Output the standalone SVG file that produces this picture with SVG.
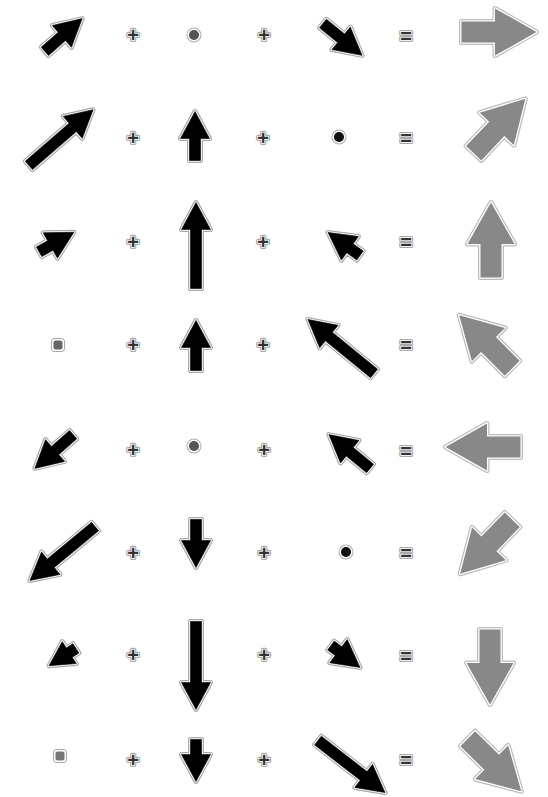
<svg xmlns="http://www.w3.org/2000/svg" width="548" height="797" viewBox="0 0 548 797">
<style>
.h{fill:#aaa;stroke:#aaa;stroke-width:5;stroke-linejoin:round}
.g{fill:#fff;stroke:#fff;stroke-width:2.6;stroke-linejoin:round}
.k{fill:#000;stroke:#000;stroke-width:0.6;stroke-linejoin:round}
.gh{fill:#bbb;stroke:#bbb;stroke-width:5;stroke-linejoin:round}
.gg{fill:#fff;stroke:#fff;stroke-width:2.6;stroke-linejoin:round}
.gk{fill:#888}
.sym{font-family:"Liberation Sans",Arial,sans-serif;font-size:20px;font-weight:bold;text-anchor:middle;dominant-baseline:central}
.symh{fill:#aaa;stroke:#aaa;stroke-width:4;stroke-linejoin:round}
.symk{fill:#333;stroke:#fff;stroke-width:1.5;paint-order:stroke}
.dh{stroke:#aaa;stroke-width:4}
</style>
<defs>
<polygon id="big" points="2.5,-10.5 36,-10.5 36,-23.5 77.5,0 36,23.5 36,10.5 2.5,10.5"/>
<polygon id="s1a" points="2.5,-5.5 25.1,-5.5 25.1,-14.5 52.1,0 25.1,14.5 25.1,5.5 2.5,5.5"/>
<polygon id="s1c" points="2.5,-5.5 25.9,-5.5 25.9,-14.5 52.9,0 25.9,14.5 25.9,5.5 2.5,5.5"/>
<polygon id="s2a" points="2.5,-5.5 60.5,-5.5 60.5,-14.5 87.5,0 60.5,14.5 60.5,5.5 2.5,5.5"/>
<polygon id="s2b" points="2.5,-5.5 24.5,-5.5 24.5,-14.5 51.5,0 24.5,14.5 24.5,5.5 2.5,5.5"/>
<polygon id="s3a" points="2.5,-5.5 15.3,-5.5 15.3,-14.5 42.3,0 15.3,14.5 15.3,5.5 2.5,5.5"/>
<polygon id="s3b" points="2.5,-5.5 61.5,-5.5 61.5,-14.5 88.5,0 61.5,14.5 61.5,5.5 2.5,5.5"/>
<polygon id="s3c" points="2.5,-5.5 14.9,-5.5 14.9,-14.5 41.9,0 14.9,14.5 14.9,5.5 2.5,5.5"/>
<polygon id="s4b" points="2.5,-5.5 25.5,-5.5 25.5,-14.5 52.5,0 25.5,14.5 25.5,5.5 2.5,5.5"/>
<polygon id="s4c" points="2.5,-5.5 60.8,-5.5 60.8,-14.5 87.8,0 60.8,14.5 60.8,5.5 2.5,5.5"/>
<polygon id="s5a" points="2.5,-5.5 26.5,-5.5 26.5,-14.5 53.5,0 26.5,14.5 26.5,5.5 2.5,5.5"/>
<polygon id="s5c" points="2.5,-5.5 28.8,-5.5 28.8,-14.5 55.8,0 28.8,14.5 28.8,5.5 2.5,5.5"/>
<polygon id="s6a" points="2.5,-5.5 60,-5.5 60,-14.5 87,0 60,14.5 60,5.5 2.5,5.5"/>
<polygon id="s6b" points="2.5,-5.5 23.5,-5.5 23.5,-14.5 50.5,0 23.5,14.5 23.5,5.5 2.5,5.5"/>
<polygon id="s7a" points="2.5,-5.5 10.4,-5.5 10.4,-13 34.4,0 10.4,13 10.4,5.5 2.5,5.5"/>
<polygon id="s7b" points="2.5,-5.5 63.5,-5.5 63.5,-14.5 90.5,0 63.5,14.5 63.5,5.5 2.5,5.5"/>
<polygon id="s7c" points="2.5,-5.5 11.9,-5.5 11.9,-14.5 38.9,0 11.9,14.5 11.9,5.5 2.5,5.5"/>
<polygon id="s8b" points="2.5,-5.5 17.5,-5.5 17.5,-14.5 44.5,0 17.5,14.5 17.5,5.5 2.5,5.5"/>
<polygon id="s8c" points="2.5,-5.5 60.3,-5.5 60.3,-14.5 87.3,0 60.3,14.5 60.3,5.5 2.5,5.5"/>
<g id="plus"><text class="sym symh">+</text><text class="sym symk">+</text></g>
<g id="eq"><text class="sym symh">=</text><text class="sym symk">=</text></g>
</defs>

<!-- Row 1 -->
<g id="r1a" transform="translate(43,53) rotate(-41.3)"><use href="#s1a" class="h"/><use href="#s1a" class="g"/><use href="#s1a" class="k"/></g>
<g id="r1p1" transform="translate(133,35)"><use href="#plus"/></g>
<g id="r1b"><circle cx="194" cy="35" r="5.5" fill="#555" class="dh"/><circle cx="194" cy="35" r="5.5" fill="#555" stroke="#fff" stroke-width="2"/><circle cx="194" cy="35" r="5" fill="#555"/></g>
<g id="r1p2" transform="translate(264,35)"><use href="#plus"/></g>
<g id="r1c" transform="translate(321,22) rotate(39.1)"><use href="#s1c" class="h"/><use href="#s1c" class="g"/><use href="#s1c" class="k"/></g>
<g id="r1e" transform="translate(406,36)"><use href="#eq"/></g>
<g id="r1r" transform="translate(459,32)"><use href="#big" class="gh"/><use href="#big" class="gg"/><use href="#big" class="gk"/></g>

<!-- Row 2 -->
<g id="r2a" transform="translate(27,167) rotate(-40.9)"><use href="#s2a" class="h"/><use href="#s2a" class="g"/><use href="#s2a" class="k"/></g>
<g id="r2p1" transform="translate(133,138)"><use href="#plus"/></g>
<g id="r2b" transform="translate(195,163) rotate(-90)"><use href="#s2b" class="h"/><use href="#s2b" class="g"/><use href="#s2b" class="k"/></g>
<g id="r2p2" transform="translate(263,138)"><use href="#plus"/></g>
<g id="r2c"><circle cx="339" cy="137" r="5.5" fill="#111" class="dh"/><circle cx="339" cy="137" r="5.5" fill="#111" stroke="#fff" stroke-width="2"/><circle cx="339" cy="137" r="5" fill="#111"/></g>
<g id="r2e" transform="translate(406,138)"><use href="#eq"/></g>
<g id="r2r" transform="translate(472,155) rotate(-46.5)"><use href="#big" class="gh"/><use href="#big" class="gg"/><use href="#big" class="gk"/></g>

<!-- Row 3 -->
<g id="r3a" transform="translate(37,253) rotate(-29.4)"><use href="#s3a" class="h"/><use href="#s3a" class="g"/><use href="#s3a" class="k"/></g>
<g id="r3p1" transform="translate(133,242)"><use href="#plus"/></g>
<g id="r3b" transform="translate(196,291) rotate(-90)"><use href="#s3b" class="h"/><use href="#s3b" class="g"/><use href="#s3b" class="k"/></g>
<g id="r3p2" transform="translate(263,242)"><use href="#plus"/></g>
<g id="r3c" transform="translate(362,257) rotate(-144.2)"><use href="#s3c" class="h"/><use href="#s3c" class="g"/><use href="#s3c" class="k"/></g>
<g id="r3e" transform="translate(406,242)"><use href="#eq"/></g>
<g id="r3r" transform="translate(491,280) rotate(-90)"><use href="#big" class="gh"/><use href="#big" class="gg"/><use href="#big" class="gk"/></g>

<!-- Row 4 -->
<g id="r4a"><rect x="53" y="340" width="10" height="10" rx="2" fill="#666" class="dh"/><rect x="53" y="340" width="10" height="10" rx="2" fill="#666" stroke="#fff" stroke-width="2"/><rect x="53.5" y="340.5" width="9" height="9" rx="2" fill="#666"/></g>
<g id="r4p1" transform="translate(133,345)"><use href="#plus"/></g>
<g id="r4b" transform="translate(196,373) rotate(-90)"><use href="#s4b" class="h"/><use href="#s4b" class="g"/><use href="#s4b" class="k"/></g>
<g id="r4p2" transform="translate(263,345)"><use href="#plus"/></g>
<g id="r4c" transform="translate(376,375) rotate(-140.8)"><use href="#s4c" class="h"/><use href="#s4c" class="g"/><use href="#s4c" class="k"/></g>
<g id="r4e" transform="translate(406,345)"><use href="#eq"/></g>
<g id="r4r" transform="translate(514,370) rotate(-135)"><use href="#big" class="gh"/><use href="#big" class="gg"/><use href="#big" class="gk"/></g>

<!-- Row 5 -->
<g id="r5a" transform="translate(75,433) rotate(138.6)"><use href="#s5a" class="h"/><use href="#s5a" class="g"/><use href="#s5a" class="k"/></g>
<g id="r5p1" transform="translate(133,450)"><use href="#plus"/></g>
<g id="r5b"><circle cx="194" cy="446" r="5.5" fill="#555" class="dh"/><circle cx="194" cy="446" r="5.5" fill="#555" stroke="#fff" stroke-width="2"/><circle cx="194" cy="446" r="5" fill="#555"/></g>
<g id="r5p2" transform="translate(264,450)"><use href="#plus"/></g>
<g id="r5c" transform="translate(372,470) rotate(-140.6)"><use href="#s5c" class="h"/><use href="#s5c" class="g"/><use href="#s5c" class="k"/></g>
<g id="r5e" transform="translate(406,451)"><use href="#eq"/></g>
<g id="r5r" transform="translate(523,447) rotate(180)"><use href="#big" class="gh"/><use href="#big" class="gg"/><use href="#big" class="gk"/></g>

<!-- Row 6 -->
<g id="r6a" transform="translate(97,525) rotate(140.4)"><use href="#s6a" class="h"/><use href="#s6a" class="g"/><use href="#s6a" class="k"/></g>
<g id="r6p1" transform="translate(133,553)"><use href="#plus"/></g>
<g id="r6b" transform="translate(196,517) rotate(90)"><use href="#s6b" class="h"/><use href="#s6b" class="g"/><use href="#s6b" class="k"/></g>
<g id="r6p2" transform="translate(264,553)"><use href="#plus"/></g>
<g id="r6c"><circle cx="346" cy="552" r="5.5" fill="#111" class="dh"/><circle cx="346" cy="552" r="5.5" fill="#111" stroke="#fff" stroke-width="2"/><circle cx="346" cy="552" r="5" fill="#111"/></g>
<g id="r6e" transform="translate(406,553)"><use href="#eq"/></g>
<g id="r6r" transform="translate(514,518) rotate(134)"><use href="#big" class="gh"/><use href="#big" class="gg"/><use href="#big" class="gk"/></g>

<!-- Row 7 -->
<g id="r7a" transform="translate(78,647) rotate(147.2)"><use href="#s7a" class="h"/><use href="#s7a" class="g"/><use href="#s7a" class="k"/></g>
<g id="r7p1" transform="translate(133,655)"><use href="#plus"/></g>
<g id="r7b" transform="translate(196,619) rotate(90)"><use href="#s7b" class="h"/><use href="#s7b" class="g"/><use href="#s7b" class="k"/></g>
<g id="r7p2" transform="translate(264,655)"><use href="#plus"/></g>
<g id="r7c" transform="translate(329,644) rotate(37.1)"><use href="#s7c" class="h"/><use href="#s7c" class="g"/><use href="#s7c" class="k"/></g>
<g id="r7e" transform="translate(406,656)"><use href="#eq"/></g>
<g id="r7r" transform="translate(490,627) rotate(90)"><use href="#big" class="gh"/><use href="#big" class="gg"/><use href="#big" class="gk"/></g>

<!-- Row 8 -->
<g id="r8a"><rect x="55" y="751" width="10" height="10" rx="2" fill="#777" class="dh"/><rect x="55" y="751" width="10" height="10" rx="2" fill="#777" stroke="#fff" stroke-width="2"/><rect x="55.5" y="751.5" width="9" height="9" rx="2" fill="#777"/></g>
<g id="r8p1" transform="translate(133,760)"><use href="#plus"/></g>
<g id="r8b" transform="translate(196,737) rotate(90)"><use href="#s8b" class="h"/><use href="#s8b" class="g"/><use href="#s8b" class="k"/></g>
<g id="r8p2" transform="translate(264,760)"><use href="#plus"/></g>
<g id="r8c" transform="translate(316,739) rotate(37.8)"><use href="#s8c" class="h"/><use href="#s8c" class="g"/><use href="#s8c" class="k"/></g>
<g id="r8e" transform="translate(406,760)"><use href="#eq"/></g>
<g id="r8r" transform="translate(466,737) rotate(44.5)"><use href="#big" class="gh"/><use href="#big" class="gg"/><use href="#big" class="gk"/></g>
</svg>
